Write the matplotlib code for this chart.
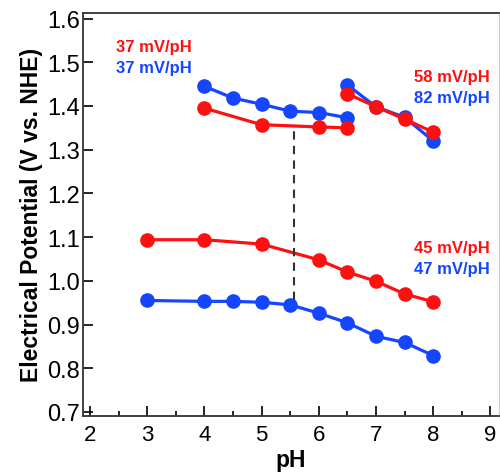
import matplotlib
matplotlib.use('Agg')
import matplotlib.pyplot as plt
from matplotlib.ticker import MultipleLocator

plt.rcParams['font.family'] = ['Liberation Sans', 'DejaVu Sans']

# Daten: obere Gruppe (pH 4 - 6.5)
ph_top_left_blue = [4, 4.5, 5, 5.5, 6, 6.5]
e_top_left_blue = [1.445, 1.418, 1.404, 1.388, 1.385, 1.373]
ph_top_left_red = [4, 5, 6, 6.5]
e_top_left_red = [1.395, 1.357, 1.352, 1.350]

# obere Gruppe (pH 6.5 - 8)
ph_top_right = [6.5, 7, 7.5, 8]
e_top_right_blue = [1.448, 1.398, 1.374, 1.320]
e_top_right_red = [1.428, 1.398, 1.370, 1.340]

# untere Gruppe
ph_bot_red = [3, 4, 5, 6, 6.5, 7, 7.5, 8]
e_bot_red = [1.094, 1.094, 1.084, 1.048, 1.020, 0.999, 0.970, 0.952]
ph_bot_blue = [3, 4, 4.5, 5, 5.5, 6, 6.5, 7, 7.5, 8]
e_bot_blue = [0.955, 0.953, 0.953, 0.951, 0.945, 0.926, 0.904, 0.873, 0.859, 0.829]

# gestrichelte Linie
ph_dash = 5.57
e_dash = [0.955, 1.357]

red = '#ff1010'
blue = '#1445ff'

fig = plt.figure(figsize=(5.0, 4.77), dpi=100)
ax = fig.add_axes([0.166, 0.126, 0.832, 0.845])

style = dict(marker='o', markersize=9.5, linewidth=2.3, clip_on=False)
ax.plot(ph_top_left_blue, e_top_left_blue, color=blue, **style)
ax.plot(ph_top_left_red, e_top_left_red, color=red, **style)
ax.plot(ph_top_right, e_top_right_blue, color=blue, **style)
ax.plot(ph_top_right, e_top_right_red, color=red, **style)
ax.plot(ph_bot_red, e_bot_red, color=red, **style)
ax.plot(ph_bot_blue, e_bot_blue, color=blue, **style)

ax.plot([ph_dash, ph_dash], e_dash, color='#333333', linestyle=(0, (4, 3)), linewidth=1.5)

# Beschriftungen der Steigungen
tk = dict(fontsize=12, fontweight='bold')
ax.text(2.45, 1.535, '37 mV/pH', color=red, ha='left', va='center', **tk)
ax.text(2.45, 1.487, '37 mV/pH', color=blue, ha='left', va='center', **tk)
ax.text(8.98, 1.467, '58 mV/pH', color=red, ha='right', va='center', **tk)
ax.text(8.98, 1.419, '82 mV/pH', color=blue, ha='right', va='center', **tk)
ax.text(8.98, 1.077, '45 mV/pH', color=red, ha='right', va='center', **tk)
ax.text(8.98, 1.029, '47 mV/pH', color=blue, ha='right', va='center', **tk)

ax.set_xlim(1.878, 9.15)
ax.set_ylim(0.691, 1.613)
ax.xaxis.set_major_locator(MultipleLocator(1))
ax.xaxis.set_minor_locator(MultipleLocator(0.5))
ax.yaxis.set_major_locator(MultipleLocator(0.1))
ax.yaxis.set_major_formatter(matplotlib.ticker.FormatStrFormatter('%.1f'))

ax.tick_params(axis='both', which='major', direction='in', length=7, width=1.2)
ax.tick_params(axis='x', which='minor', direction='in', length=3.5, width=1.2)
ax.tick_params(axis='y', labelsize=17, pad=2)
ax.tick_params(axis='x', labelsize=16, pad=6)
ax.tick_params(top=False, right=False)

for s in ['left', 'bottom', 'top']:
    ax.spines[s].set_linewidth(1.3)
    ax.spines[s].set_color('#333333')
ax.spines['right'].set_color('#cccccc')

ax.set_xlabel('pH', fontsize=16.5, fontweight='bold', labelpad=2)
ax.set_ylabel('Electrical Potential (V vs. NHE)', fontsize=16.5, fontweight='bold', labelpad=3)

fig.savefig('out.png', dpi=100)
